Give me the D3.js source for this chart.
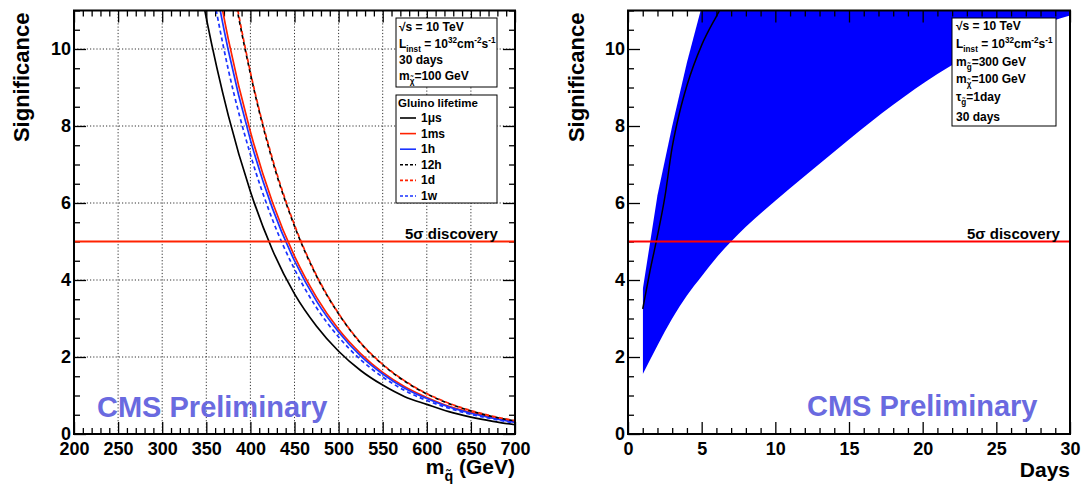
<!DOCTYPE html>
<html><head><meta charset="utf-8">
<script src="https://cdn.jsdelivr.net/npm/d3@7"></script>
<style>
html,body{margin:0;padding:0;background:#fff;}
svg text{font-family:"Liberation Sans",Arial,Helvetica,sans-serif;font-weight:bold;fill:#000;}
</style></head>
<body>
<svg id="c" width="1083" height="484"></svg>
<script>
// ---------- DATA ----------
// Left panel: significance vs squark mass for several gluino lifetimes
const massPoints   = [340, 350, 375, 400, 425, 450, 475, 500, 525, 550, 575, 600, 625, 650, 675, 700];
const sig1us  = [12.0, 10.8, 8.27, 6.30, 4.78, 3.64, 2.80, 2.15, 1.65, 1.27, 0.97, 0.77, 0.58, 0.44, 0.33, 0.24];
const sig1ms  = [14.8, 13.4, 10.25, 7.85, 6.02, 4.62, 3.55, 2.72, 2.09, 1.60, 1.23, 0.95, 0.72, 0.56, 0.42, 0.32];
const sig1h   = [14.4, 13.0, 9.96, 7.64, 5.86, 4.50, 3.45, 2.65, 2.03, 1.56, 1.19, 0.92, 0.70, 0.54, 0.41, 0.30];
const sig12h  = [18.1, 16.2, 12.3, 9.36, 7.10, 5.40, 4.10, 3.12, 2.36, 1.80, 1.37, 1.04, 0.79, 0.60, 0.45, 0.34];
const sig1d   = [18.2, 16.3, 12.4, 9.40, 7.15, 5.43, 4.12, 3.13, 2.37, 1.81, 1.38, 1.05, 0.80, 0.61, 0.46, 0.35];
const sig1w   = [13.7, 12.4, 9.46, 7.26, 5.57, 4.28, 3.28, 2.52, 1.93, 1.48, 1.13, 0.87, 0.67, 0.51, 0.39, 0.28];
const lifetimeLabels = ["1\u03BCs", "1ms", "1h", "12h", "1d", "1w"];
const massTicks = [200, 250, 300, 350, 400, 450, 500, 550, 600, 650, 700];
const sigTicks  = [0, 2, 4, 6, 8, 10];
const discoveryLevel = 5;

// Right panel: significance vs days (band + central curve)
const bandUpperDays = [1, 2, 3, 4, 5, 6];
const bandUpperSig  = [3.75, 6.2, 8.0, 9.65, 11.1, 12.5];
const bandLowerDays = [1, 2, 3, 4, 5, 6, 7, 8, 10, 12, 15, 18, 21, 24, 27, 30];
const bandLowerSig  = [1.55, 2.3, 3.0, 3.6, 4.1, 4.58, 5.0, 5.38, 6.06, 6.7, 7.65, 8.55, 9.35, 10.0, 10.5, 10.87];
const centralDays = [1, 1.5, 2, 2.5, 3, 3.5, 4, 5, 6, 6.5];
const centralSig  = [3.25, 4.25, 5.15, 6.15, 7.45, 8.35, 9.05, 10.1, 10.85, 11.2];
const dayTicks = [0, 5, 10, 15, 20, 25, 30];

// ---------- DRAW ----------
const svg = d3.select("#c");
const defs = svg.append("defs");
const FONT = '"Liberation Sans",Arial,Helvetica,sans-serif';
const yTop = 10.5, yBot = 434;

function richText(g, x, y, parts, size, anchor) {
  const t = g.append("text").attr("x", x).attr("y", y).attr("font-size", size)
    .attr("text-anchor", anchor || "start");
  let cur = 0;
  parts.forEach(p => {
    let target = 0, fs = size;
    if (p.s === "sub") { target = size * 0.32; fs = size * 0.68; }
    if (p.s === "sup") { target = -size * 0.38; fs = size * 0.68; }
    t.append("tspan").attr("dy", target - cur).attr("font-size", fs).text(p.t);
    cur = target;
  });
  return t;
}

function panel(opts) {
  const g = svg.append("g");
  const x = d3.scaleLinear().domain(opts.xDomain).range(opts.xRange);
  const y = d3.scaleLinear().domain([0, 11]).range([yBot, yTop]);
  const [x0, x1] = opts.xRange;
  const clipId = "clip" + opts.id;
  defs.append("clipPath").attr("id", clipId).append("rect")
    .attr("x", x0).attr("y", yTop).attr("width", x1 - x0).attr("height", yBot - yTop);

  const under = g.append("g").attr("clip-path", `url(#${clipId})`);

  if (opts.grid) {
    const gg = g.append("g").attr("stroke", "#333").attr("stroke-width", 1).attr("stroke-dasharray", "1.2,2");
    opts.xMajor.filter(v => v !== opts.xDomain[0] && v !== opts.xDomain[1]).forEach(v =>
      gg.append("line").attr("x1", x(v)).attr("x2", x(v)).attr("y1", yTop).attr("y2", yBot));
    sigTicks.filter(v => v > 0).forEach(v =>
      gg.append("line").attr("x1", x0).attr("x2", x1).attr("y1", y(v)).attr("y2", y(v)));
  }

  const xMinor = d3.range(opts.xDomain[0], opts.xDomain[1] + 1e-9, opts.xMinorStep)
    .filter(v => !opts.xMajor.some(m => Math.abs(m - v) < 1e-9));
  const yMinor = d3.range(0, 11 + 1e-9, 0.5).filter(v => !sigTicks.some(m => Math.abs(m - v) < 1e-9));

  const fsTick = 18;
  const bx = g.append("g").attr("transform", `translate(0,${yBot})`)
    .call(d3.axisBottom(x).tickValues(opts.xMajor).tickSize(-12).tickPadding(8).tickFormat(d3.format("d")));
  bx.select(".domain").remove();
  bx.selectAll("text").attr("font-size", fsTick).attr("font-family", FONT).attr("font-weight", "bold");
  bx.selectAll("line").attr("stroke-width", 1.3);
  g.append("g").attr("transform", `translate(0,${yBot})`)
    .call(d3.axisBottom(x).tickValues(xMinor).tickSize(-6).tickFormat(""))
    .call(s => s.select(".domain").remove()).selectAll("line").attr("stroke-width", 1.3);
  g.append("g").attr("transform", `translate(0,${yTop})`)
    .call(d3.axisTop(x).tickValues(opts.xMajor).tickSize(-12).tickFormat(""))
    .call(s => s.select(".domain").remove()).selectAll("line").attr("stroke-width", 1.3);
  g.append("g").attr("transform", `translate(0,${yTop})`)
    .call(d3.axisTop(x).tickValues(xMinor).tickSize(-6).tickFormat(""))
    .call(s => s.select(".domain").remove()).selectAll("line").attr("stroke-width", 1.3);

  const ly = g.append("g").attr("transform", `translate(${x0},0)`)
    .call(d3.axisLeft(y).tickValues(sigTicks).tickSize(-12).tickPadding(3).tickFormat(d3.format("d")));
  ly.select(".domain").remove();
  ly.selectAll("text").attr("font-size", fsTick).attr("font-family", FONT).attr("font-weight", "bold");
  ly.selectAll("line").attr("stroke-width", 1.3);
  g.append("g").attr("transform", `translate(${x0},0)`)
    .call(d3.axisLeft(y).tickValues(yMinor).tickSize(-6).tickFormat(""))
    .call(s => s.select(".domain").remove()).selectAll("line").attr("stroke-width", 1.3);
  if (opts.rightTicks) {
    g.append("g").attr("transform", `translate(${x1},0)`)
      .call(d3.axisRight(y).tickValues(sigTicks).tickSize(-12).tickFormat(""))
      .call(s => s.select(".domain").remove()).selectAll("line").attr("stroke-width", 1.3);
    g.append("g").attr("transform", `translate(${x1},0)`)
      .call(d3.axisRight(y).tickValues(yMinor).tickSize(-6).tickFormat(""))
      .call(s => s.select(".domain").remove()).selectAll("line").attr("stroke-width", 1.3);
  }

  g.append("text").attr("transform", `translate(${opts.yTitleX},${yTop + 2}) rotate(-90)`)
    .attr("text-anchor", "end").attr("font-size", 22).text("Significance");

  return { g, under, x, y, clipId, x0, x1 };
}

// ----- LEFT PANEL -----
const L = panel({ id: "L", xDomain: [200, 700], xRange: [74, 515], xMajor: massTicks, xMinorStep: 10,
  grid: true, rightTicks: true, yTitleX: 29 });

const lineL = d3.line().x((d, i) => L.x(massPoints[i])).y(d => L.y(d)).curve(d3.curveMonotoneX);
const series = [
  { v: sig1us, c: "#000000", dash: null },
  { v: sig1ms, c: "#ff2200", dash: null },
  { v: sig1h,  c: "#1a33ff", dash: null },
  { v: sig12h, c: "#000000", dash: "4,3" },
  { v: sig1d,  c: "#ff2200", dash: "4,3" },
  { v: sig1w,  c: "#1a33ff", dash: "4,3" }
];
const cg = L.g.append("g").attr("clip-path", `url(#${L.clipId})`);
series.forEach(s => {
  cg.append("path").attr("d", lineL(s.v)).attr("fill", "none").attr("stroke", s.c)
    .attr("stroke-width", 1.7).attr("stroke-dasharray", s.dash);
});
L.g.append("line").attr("x1", L.x0).attr("x2", L.x1).attr("y1", L.y(discoveryLevel)).attr("y2", L.y(discoveryLevel))
  .attr("stroke", "#ff2200").attr("stroke-width", 2);
L.g.append("text").attr("x", 405).attr("y", 239).attr("font-size", 15).text("5\u03C3 discovery");

L.g.append("rect").attr("x", 396).attr("y", 18).attr("width", 101).attr("height", 69)
  .attr("fill", "#fff").attr("stroke", "#000").attr("stroke-width", 1);
richText(L.g, 399, 31, [{ t: "\u221As = 10 TeV" }], 12);
richText(L.g, 399, 48, [{ t: "L" }, { t: "inst", s: "sub" }, { t: " = 10" }, { t: "32", s: "sup" }, { t: "cm" }, { t: "-2", s: "sup" }, { t: "s" }, { t: "-1", s: "sup" }], 12);
richText(L.g, 399, 64, [{ t: "30 days" }], 12);
richText(L.g, 399, 80, [{ t: "m" }, { t: "\u03C7\u0303", s: "sub" }, { t: "=100 GeV" }], 12);

L.g.append("rect").attr("x", 396).attr("y", 95).attr("width", 101).attr("height", 108)
  .attr("fill", "#fff").attr("stroke", "#000").attr("stroke-width", 1);
L.g.append("text").attr("x", 398).attr("y", 107).attr("font-size", 11.5).text("Gluino lifetime");
series.forEach((s, i) => {
  const yy = 118 + i * 15.6;
  L.g.append("line").attr("x1", 400).attr("x2", 416).attr("y1", yy).attr("y2", yy)
    .attr("stroke", s.c).attr("stroke-width", 1.6).attr("stroke-dasharray", s.dash ? "3,2" : null);
  L.g.append("text").attr("x", 421).attr("y", yy + 4).attr("font-size", 12).text(lifetimeLabels[i]);
});

richText(L.g, 515, 474, [{ t: "m" }, { t: "q\u0303", s: "sub" }, { t: " (GeV)" }], 21, "end");
L.g.append("text").attr("x", 97).attr("y", 417).attr("font-size", 29).style("fill", "#6a6ae0").text("CMS Preliminary");

L.g.append("rect").attr("x", L.x0).attr("y", yTop).attr("width", L.x1 - L.x0).attr("height", yBot - yTop)
  .attr("fill", "none").attr("stroke", "#000").attr("stroke-width", 2);

// ----- RIGHT PANEL -----
const R = panel({ id: "R", xDomain: [0, 30], xRange: [628, 1070], xMajor: dayTicks, xMinorStep: 1,
  grid: false, rightTicks: false, yTitleX: 584 });

// band = area above the lower edge, clipped to the region right of / below the upper edge
const upperPts = bandUpperDays.map((d, i) => [R.x(d), R.y(bandUpperSig[i])]);
const clipPoly = upperPts.concat([
  [R.x1 + 10, R.y(11) - 10], [R.x1 + 10, R.y(0) + 10], [upperPts[0][0], R.y(0) + 10]
]);
defs.append("clipPath").attr("id", "bandClip").append("path")
  .attr("d", d3.line()(clipPoly) + "Z");
const lowerArea = d3.area()
  .x((d, i) => R.x(bandLowerDays[i])).y0(d => R.y(d)).y1(R.y(11) - 5)
  .curve(d3.curveMonotoneX);
R.under.append("g").attr("clip-path", "url(#bandClip)")
  .append("path").attr("d", lowerArea(bandLowerSig)).attr("fill", "#0000ff");

const rg = R.g.append("g").attr("clip-path", `url(#${R.clipId})`);
const centralLine = d3.line().x((d, i) => R.x(centralDays[i])).y(d => R.y(d)).curve(d3.curveMonotoneX);
rg.append("path").attr("d", centralLine(centralSig)).attr("fill", "none").attr("stroke", "#000").attr("stroke-width", 1.5);
R.g.append("line").attr("x1", R.x0).attr("x2", R.x1).attr("y1", R.y(discoveryLevel)).attr("y2", R.y(discoveryLevel))
  .attr("stroke", "#ff0000").attr("stroke-width", 1.8);
R.g.append("text").attr("x", 967).attr("y", 239).attr("font-size", 15).text("5\u03C3 discovery");

R.g.append("rect").attr("x", 952).attr("y", 18).attr("width", 104).attr("height", 108)
  .attr("fill", "#fff").attr("stroke", "#000").attr("stroke-width", 1);
richText(R.g, 956, 30, [{ t: "\u221As = 10 TeV" }], 12);
richText(R.g, 956, 48, [{ t: "L" }, { t: "inst", s: "sub" }, { t: " = 10" }, { t: "32", s: "sup" }, { t: "cm" }, { t: "-2", s: "sup" }, { t: "s" }, { t: "-1", s: "sup" }], 12);
richText(R.g, 956, 66, [{ t: "m" }, { t: "g\u0303", s: "sub" }, { t: "=300 GeV" }], 12);
richText(R.g, 956, 83, [{ t: "m" }, { t: "\u03C7\u0303", s: "sub" }, { t: "=100 GeV" }], 12);
richText(R.g, 956, 101, [{ t: "\u03C4" }, { t: "g\u0303", s: "sub" }, { t: "=1day" }], 12);
richText(R.g, 956, 121, [{ t: "30 days" }], 12);

R.g.append("text").attr("x", 1070).attr("y", 477).attr("text-anchor", "end").attr("font-size", 21).text("Days");
R.g.append("text").attr("x", 807).attr("y", 416).attr("font-size", 29).style("fill", "#6a6ae0").text("CMS Preliminary");

R.g.append("rect").attr("x", R.x0).attr("y", yTop).attr("width", R.x1 - R.x0).attr("height", yBot - yTop)
  .attr("fill", "none").attr("stroke", "#000").attr("stroke-width", 2);
</script>
</body></html>
